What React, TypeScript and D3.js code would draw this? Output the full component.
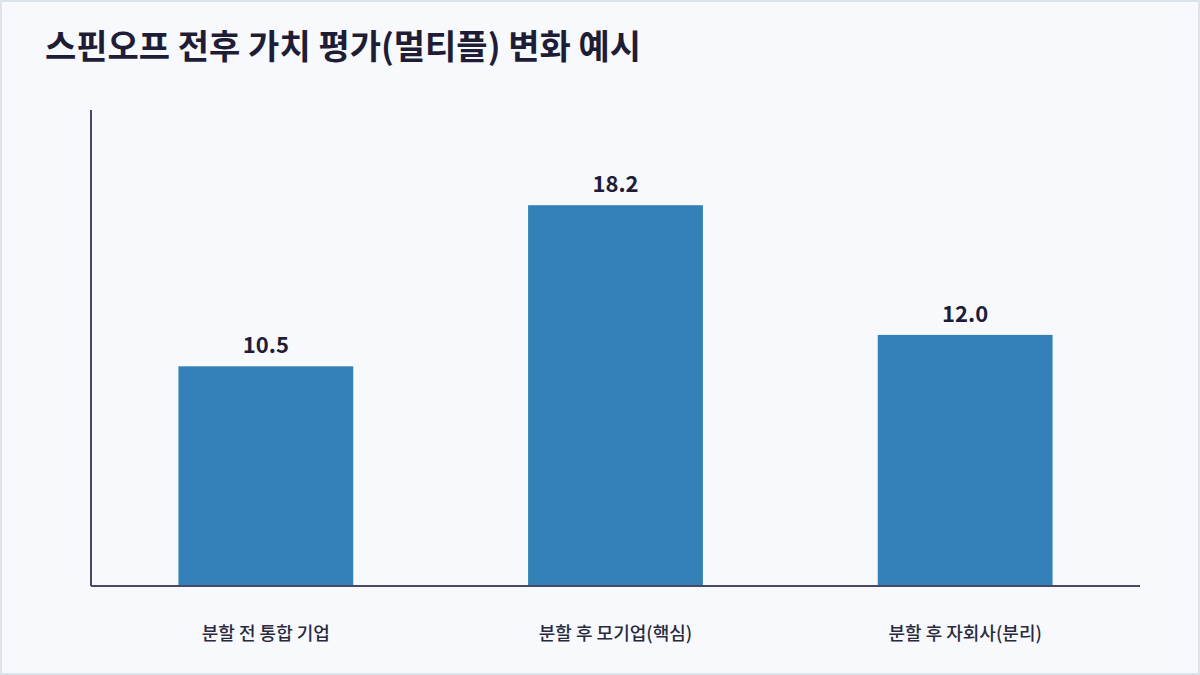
import { useRef, useEffect } from 'react';
import * as d3 from 'd3';

const title = '스핀오프 전후 가치 평가(멀티플) 변화 예시';
const categories = ['분할 전 통합 기업', '분할 후 모기업(핵심)', '분할 후 자회사(분리)'];
const multiples = [10.5, 18.2, 12.0];

const W = 1200;
const H = 675;
const FONT = '"Noto Sans CJK KR", "Noto Sans", sans-serif';

export default function App() {
  const svgRef = useRef<SVGSVGElement>(null);

  useEffect(() => {
    document.body.style.margin = '0';
    if (!svgRef.current) return;
    const svg = d3.select(svgRef.current);
    svg.selectAll('*').remove();

    const margin = { top: 110, right: 60, bottom: 89, left: 91 };
    const innerW = W - margin.left - margin.right;
    const innerH = H - margin.top - margin.bottom;

    // background + frame
    svg.append('rect')
      .attr('x', 1).attr('y', 1)
      .attr('width', W - 2).attr('height', H - 2)
      .attr('fill', '#f7f9fd')
      .attr('stroke', '#dde3ea')
      .attr('stroke-width', 2);

    svg.append('text')
      .attr('x', 45).attr('y', 59)
      .attr('font-family', FONT)
      .attr('font-size', '34px')
      .attr('font-weight', 700)
      .attr('fill', '#1f1d36')
      .text(title);

    const data = categories.map((c, i) => ({ c, v: multiples[i] }));

    const x = d3.scaleBand()
      .domain(categories)
      .range([0, innerW])
      .paddingInner(0.5)
      .paddingOuter(0.25);

    const y = d3.scaleLinear()
      .domain([0, (d3.max(multiples) || 0) * 1.25])
      .range([innerH, 0]);

    const g = svg.append('g').attr('transform', `translate(${margin.left},${margin.top})`);

    g.selectAll('rect.bar')
      .data(data)
      .join('rect')
      .attr('class', 'bar')
      .attr('x', (d) => x(d.c)!)
      .attr('width', x.bandwidth())
      .attr('y', (d) => y(d.v))
      .attr('height', (d) => innerH - y(d.v))
      .attr('fill', '#3381b8');

    g.selectAll('text.val')
      .data(data)
      .join('text')
      .attr('class', 'val')
      .attr('x', (d) => x(d.c)! + x.bandwidth() / 2)
      .attr('y', (d) => y(d.v) - 13)
      .attr('text-anchor', 'middle')
      .attr('font-family', FONT)
      .attr('font-size', '22px')
      .attr('font-weight', 700)
      .attr('fill', '#1f1d36')
      .text((d) => d.v.toFixed(1));

    // x axis (line + labels)
    g.append('g')
      .attr('transform', `translate(0,${innerH})`)
      .call(d3.axisBottom(x).tickSize(0).tickPadding(41))
      .call((el) => el.select('.domain').attr('stroke', '#4a4866').attr('stroke-width', 2).attr('d', `M0,0H${innerW}`))
      .call((el) => el.selectAll('.tick text')
        .attr('font-family', FONT)
        .attr('font-size', '18px')
        .attr('font-weight', 500)
        .attr('fill', '#2a2a3e'));

    // y axis line only
    g.append('line')
      .attr('x1', 0).attr('x2', 0)
      .attr('y1', 0).attr('y2', innerH)
      .attr('stroke', '#4a4866')
      .attr('stroke-width', 2);
  }, []);

  return <svg ref={svgRef} width={W} height={H} style={{ display: 'block' }} />;
}
